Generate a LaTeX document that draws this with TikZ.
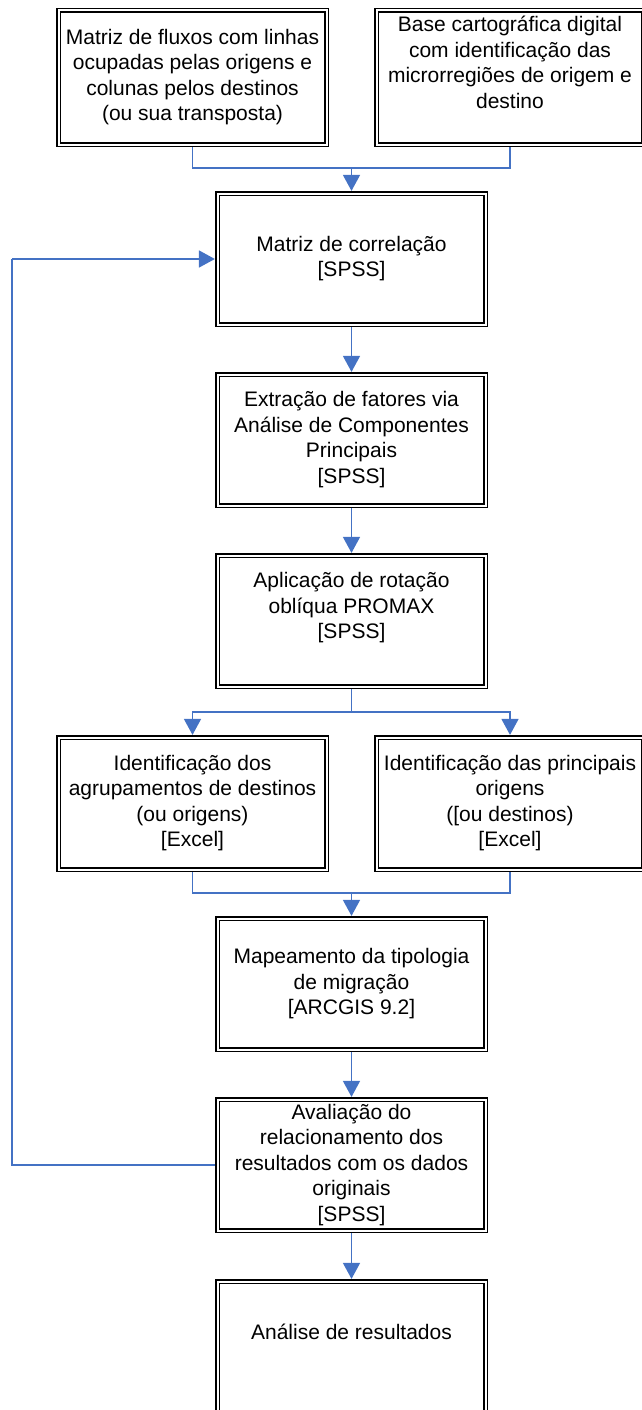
\documentclass[tikz,border=0pt]{standalone}
\usepackage{fontspec}
\setmainfont{Liberation Sans}
\usetikzlibrary{arrows.meta}
\definecolor{flowblue}{HTML}{4472C4}
\tikzset{
  procbox/.style={rectangle, draw=black, double=white, double distance=2pt, line width=1.6pt,
    outer sep=2.6pt, inner sep=0pt, align=center,
    font=\fontsize{21}{25.5}\selectfont},
  widebox/.style={procbox, minimum width=268pt, minimum height=132pt},
  conn/.style={draw=flowblue, line width=1.5pt},
  arr/.style={conn, -{Triangle[width=17pt,length=16pt]}}
}
\begin{document}
\begin{tikzpicture}[x=1pt,y=-1pt]
\useasboundingbox (0,0) rectangle (642,1410);
\node[widebox, minimum height=134pt] (b1) at (192.5,77.5) {\strut Matriz de fluxos com linhas\\ocupadas pelas origens e\\colunas pelos destinos\\(ou sua transposta)\strut};
\node[widebox, minimum height=134pt, minimum width=267pt] (b2) at (510,77.5) {\strut Base cartográfica digital\\com identificação das\\microrregiões de origem e\\destino\\\strut};
\node[widebox, minimum height=131pt] (b3) at (351.5,259) {\strut Matriz de correlação\\{}[SPSS]\strut};
\node[widebox, minimum height=131pt] (b4) at (351.5,440) {\strut Extração de fatores via\\Análise de Componentes\\Principais\\{}[SPSS]\strut};
\node[widebox, minimum height=131pt] (b5) at (351.5,621) {\strut Aplicação de rotação\\oblíqua PROMAX\\{}[SPSS]\\\strut};
\node[widebox] (b6) at (192.5,803.5) {\strut Identificação dos\\agrupamentos de destinos\\(ou origens)\\{}[Excel]\strut};
\node[widebox, minimum width=267pt] (b7) at (510,803.5) {\strut Identificação das principais\\origens\\({}[ou destinos)\\{}[Excel]\strut};
\node[widebox, minimum height=131pt] (b8) at (351.5,984) {\strut Mapeamento da tipologia\\de migração\\{}[ARCGIS 9.2]\strut};
\node[widebox, minimum height=131pt] (b9) at (351.5,1165) {\strut Avaliação do\\relacionamento dos\\resultados com os dados\\originais\\{}[SPSS]\strut};
\node[widebox, minimum height=131pt] (b10) at (351.5,1347) {\strut Análise de resultados\\\strut};
\coordinate (j1) at (351.5,168);
\coordinate (j2) at (351.5,712);
\coordinate (j3) at (351.5,893);
\coordinate (l1) at (12,1165);
\coordinate (l2) at (12,259);
\draw[conn] (b1.south) |- (j1);
\draw[conn] (b2.south) |- (j1);
\draw[arr] (j1) -- (b3.north);
\draw[arr] (b3.south) -- (b4.north);
\draw[arr] (b4.south) -- (b5.north);
\draw[conn] (b5.south) -- (j2);
\draw[arr] (j2) -| (b6.north);
\draw[arr] (j2) -| (b7.north);
\draw[conn] (b6.south) |- (j3);
\draw[conn] (b7.south) |- (j3);
\draw[arr] (j3) -- (b8.north);
\draw[arr] (b8.south) -- (b9.north);
\draw[arr] (b9.south) -- (b10.north);
\draw[conn] (b9.west) -- (l1) -- (l2);
\draw[arr] (l2) -- (b3.west);
\end{tikzpicture}
\end{document}
